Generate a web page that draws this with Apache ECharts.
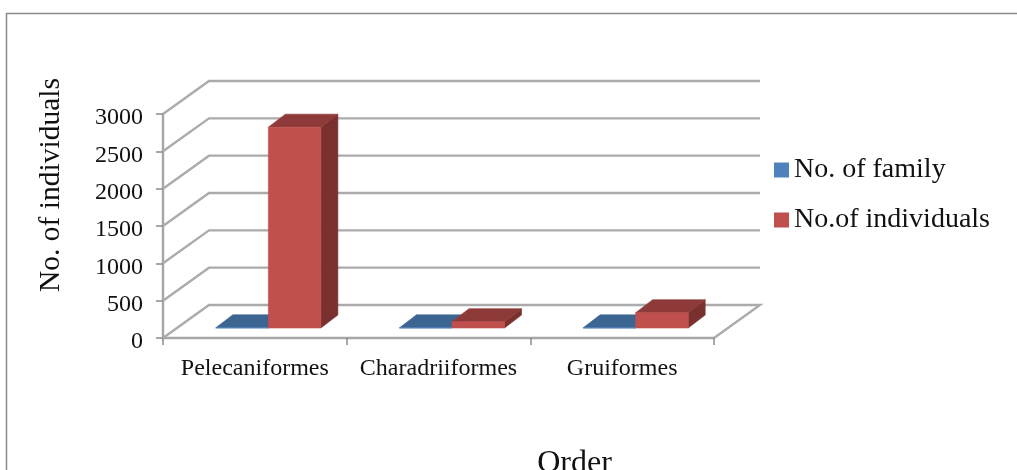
<!DOCTYPE html>
<html>
<head>
<meta charset="utf-8">
<style>html,body{margin:0;padding:0;background:#fff;overflow:hidden}#c{width:1017px;height:470px}</style>
<script src="https://cdn.jsdelivr.net/npm/echarts@6/dist/echarts.min.js"></script>
</head>
<body>
<div id="c"></div>
<script>
var categories = ['Pelecaniformes', 'Charadriiformes', 'Gruiformes'];
var familyValues = [3, 2, 2];
var individualValues = [2690, 85, 205];
var yTicks = [0, 500, 1000, 1500, 2000, 2500, 3000];

var FONT = '"Liberation Serif","Times New Roman",serif';
var WALL = [46, -33], BAR_OFFSET = [13.5, -10], BAR_DEPTH = [17, -13], BAR_BAND = 0.286;

function shade(points, fill) {
  return { type: 'polygon', shape: { points: points }, style: { fill: fill, stroke: fill, lineWidth: 0.6 } };
}
function barRenderer(side, front, top, right) {
  return function (params, api) {
    var cat = api.value(0), val = api.value(1);
    var band = api.size([1, 0])[0];
    var w = band * BAR_BAND;
    var c0 = api.coord([cat, 0]), c1 = api.coord([cat, val]);
    var xl = c0[0] + BAR_OFFSET[0] + (side === 0 ? -w : 0);
    var xr = xl + w;
    var yb = c0[1] + BAR_OFFSET[1];
    var yt = c1[1] + BAR_OFFSET[1];
    var dx = BAR_DEPTH[0], dy = BAR_DEPTH[1];
    return { type: 'group', children: [
      shade([[xr, yb], [xr + dx, yb + dy], [xr + dx, yt + dy], [xr, yt]], right),
      shade([[xl, yt], [xr, yt], [xr + dx, yt + dy], [xl + dx, yt + dy]], top),
      shade([[xl, yb], [xr, yb], [xr, yt], [xl, yt]], front)
    ] };
  };
}
function wallRenderer(params, api) {
  var p = api.coord([0, api.value(1)]);
  var cs = params.coordSys;
  var x0 = cs.x, y = p[1];
  var pts = [[x0, y], [x0 + WALL[0], y + WALL[1]], [x0 + cs.width + WALL[0], y + WALL[1]]];
  if (api.value(1) === 0) pts.push([x0 + cs.width, y]);
  return { type: 'polyline', shape: { points: pts }, style: { fill: null, stroke: '#ababab', lineWidth: 2.4 } };
}

var chart = echarts.init(document.getElementById('c'), null, { renderer: 'canvas' });
chart.setOption({
  animation: false,
  backgroundColor: '#fff',
  grid: { left: 163, right: 303, top: 114, bottom: 132, outerBoundsMode: 'none' },
  graphic: [{
    type: 'polyline', silent: true, z: 0,
    shape: { points: [[6.5, 470], [6.5, 13.5], [1017, 13.5]] },
    style: { fill: null, stroke: '#8a8a8a', lineWidth: 1.5 }
  }],
  legend: {
    orient: 'vertical', left: 774, top: 156, padding: 0, itemWidth: 15, itemHeight: 15, itemGap: 22,
    icon: 'rect',
    data: ['No. of family', 'No.of individuals'],
    textStyle: { fontFamily: FONT, fontSize: 28, color: '#111' }
  },
  xAxis: {
    type: 'category', data: categories,
    name: 'Order', nameLocation: 'middle', nameGap: 110,
    nameTextStyle: { fontFamily: FONT, fontSize: 32, color: '#111', padding: [0, 0, 0, 272] },
    axisLine: { lineStyle: { color: '#a6a6a6', width: 2.4 } },
    axisTick: { show: true, length: 7, lineStyle: { color: '#8a8a8a', width: 1.5 } },
    axisLabel: { fontFamily: FONT, fontSize: 24, color: '#111', margin: 19, interval: 0 },
    splitLine: { show: false }
  },
  yAxis: {
    type: 'value', min: 0, max: 3000, interval: 500,
    name: 'No. of individuals', nameLocation: 'middle', nameGap: 97,
    nameTextStyle: { fontFamily: FONT, fontSize: 29.5, color: '#111', padding: [0, 0, 0, 82] },
    axisLine: { show: true, lineStyle: { color: '#a6a6a6', width: 2.4 } },
    axisTick: { show: true, length: 7, lineStyle: { color: '#8a8a8a', width: 1.5 } },
    axisLabel: { fontFamily: FONT, fontSize: 24, color: '#111', margin: 20, padding: [8, 0, 0, 0], formatter: function (v) { return String(v); }, rich: { t: {} } },
    splitLine: { show: false }
  },
  series: [
    { type: 'custom', name: 'walls', silent: true, z: 1, renderItem: wallRenderer,
      encode: { x: 0, y: 1 }, data: yTicks.map(function (t) { return [0, t]; }) },
    { type: 'custom', name: 'No. of family', z: 2, itemStyle: { color: '#4f81bd' },
      renderItem: barRenderer(0, '#4f81bd', '#3d6592', '#305077'),
      encode: { x: 0, y: 1 }, data: familyValues.map(function (v, i) { return [i, v]; }) },
    { type: 'custom', name: 'No.of individuals', z: 3, itemStyle: { color: '#c0504d' },
      renderItem: barRenderer(1, '#c0504d', '#8e3a38', '#7a302e'),
      encode: { x: 0, y: 1 }, data: individualValues.map(function (v, i) { return [i, v]; }) }
  ]
});
</script>
</body>
</html>
